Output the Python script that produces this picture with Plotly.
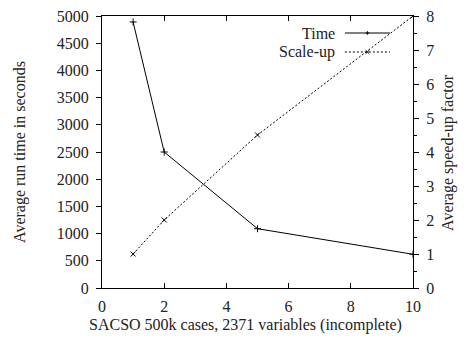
import plotly.graph_objects as go

# Data
cores = [1, 2, 5, 10]
run_time = [4890, 2500, 1090, 620]
speedup = [1, 2, 4.5, 8]

x_ticks = [0, 2, 4, 6, 8, 10]
y_ticks = list(range(0, 5001, 500))
y2_ticks = list(range(0, 9))

x_title = "SACSO 500k cases, 2371 variables (incomplete)"
y_title = "Average run time in seconds"
y2_title = "Average speed-up factor"

FONT = "Liberation Serif"
INK = "#222222"
FS = 16

fig = go.Figure()
fig.add_trace(go.Scatter(
    x=cores, y=run_time, name="Time", mode="lines+markers",
    line=dict(color="black", width=1),
    marker=dict(symbol="cross-thin", size=5, line=dict(color="black", width=1)),
    yaxis="y", showlegend=False,
))
fig.add_trace(go.Scatter(
    x=cores, y=speedup, name="Scale-up", mode="lines+markers",
    line=dict(color="black", width=1, dash="2px,2px"),
    marker=dict(symbol="x-thin", size=5, line=dict(color="black", width=1)),
    yaxis="y2", showlegend=False,
))

# Custom gnuplot-style legend (text left of sample)
legend_items = [("Time", 0.9375, "solid", "cross-thin"), ("Scale-up", 0.8676, "2px,2px", "x-thin")]
for label, ly, dash, sym in legend_items:
    fig.add_annotation(x=0.755, y=ly, xref="paper", yref="paper", text=label,
                       showarrow=False, xanchor="right", yanchor="middle",
                       font=dict(family=FONT, size=FS, color=INK))
    fig.add_shape(type="line", xref="paper", yref="paper", x0=0.781, x1=0.926, y0=ly, y1=ly,
                  line=dict(color="black", width=1, dash=dash))
    s = 0.006
    if sym == "cross-thin":
        fig.add_shape(type="line", xref="paper", yref="paper", x0=0.8535 - s, x1=0.8535 + s, y0=ly, y1=ly,
                      line=dict(color="black", width=1))
        fig.add_shape(type="line", xref="paper", yref="paper", x0=0.8535, x1=0.8535, y0=ly - s * 1.1, y1=ly + s * 1.1,
                      line=dict(color="black", width=1))
    else:
        fig.add_shape(type="line", xref="paper", yref="paper", x0=0.8535 - s, x1=0.8535 + s, y0=ly - s * 1.1, y1=ly + s * 1.1,
                      line=dict(color="black", width=1))
        fig.add_shape(type="line", xref="paper", yref="paper", x0=0.8535 - s, x1=0.8535 + s, y0=ly + s * 1.1, y1=ly - s * 1.1,
                      line=dict(color="black", width=1))

# Axis titles as annotations (gnuplot-like placement)
fig.add_annotation(x=-0.2637, y=0.5, xref="paper", yref="paper", text=y_title, textangle=-90,
                   showarrow=False, xanchor="center", yanchor="middle",
                   font=dict(family=FONT, size=FS, color=INK))
fig.add_annotation(x=1.1125, y=0.5, xref="paper", yref="paper", text=y2_title, textangle=-90,
                   showarrow=False, xanchor="center", yanchor="middle",
                   font=dict(family=FONT, size=FS, color=INK))
fig.add_annotation(x=0.463, y=-0.136, xref="paper", yref="paper", text=x_title,
                   showarrow=False, xanchor="center", yanchor="middle",
                   font=dict(family=FONT, size=FS, color=INK))

fig.update_layout(
    width=467, height=343,
    margin=dict(l=102, r=54, t=16, b=55),
    paper_bgcolor="white", plot_bgcolor="white",
    font=dict(family=FONT, size=FS, color=INK),
    xaxis=dict(
        range=[0, 10], tickvals=x_ticks, ticks="inside", ticklen=5, tickcolor="black",
        showline=True, linecolor="black", linewidth=1, mirror="ticks", showgrid=False, zeroline=False,
        tickfont=dict(family=FONT, size=FS, color=INK), automargin=False,
        ticklabelstandoff=4,
    ),
    yaxis=dict(
        range=[0, 5000], tickvals=y_ticks, ticks="outside", ticklen=5, tickcolor="black",
        showline=True, linecolor="black", linewidth=1, showgrid=False, zeroline=False,
        tickfont=dict(family=FONT, size=FS, color=INK), automargin=False,
        ticklabelstandoff=4,
    ),
    yaxis2=dict(
        range=[0, 8], tickvals=y2_ticks, overlaying="y", side="right",
        ticks="outside", ticklen=5, tickcolor="black",
        minor=dict(dtick=0.5, ticks="outside", ticklen=3, tickcolor="black"),
        showline=True, linecolor="black", linewidth=1, showgrid=False, zeroline=False,
        tickfont=dict(family=FONT, size=FS, color=INK), automargin=False,
        ticklabelstandoff=4,
    ),
)

fig.write_html("out.html", config={"displayModeBar": False},
               post_script="document.body.style.margin='0';")
